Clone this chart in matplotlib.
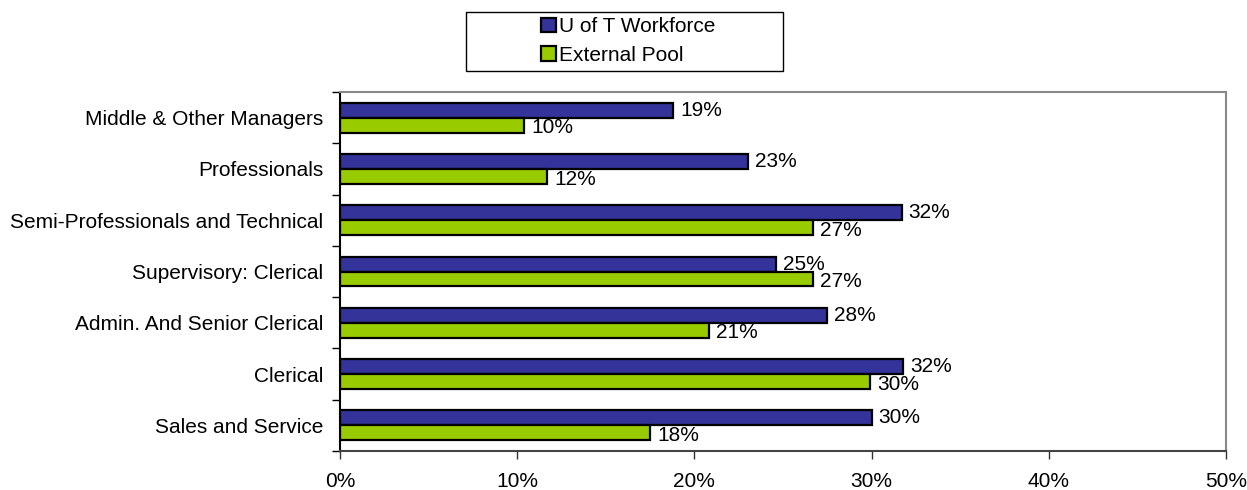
import numpy as np
import matplotlib.pyplot as plt
from matplotlib.patches import Patch, Rectangle
from matplotlib.ticker import FixedLocator, PercentFormatter

# data (top to bottom as drawn)
categories = ['Middle & Other Managers', 'Professionals', 'Semi-Professionals and Technical',
              'Supervisory: Clerical', 'Admin. And Senior Clerical', 'Clerical', 'Sales and Service']
uoft = [18.8, 23.0, 31.7, 24.6, 27.5, 31.8, 30.0]
external = [10.4, 11.7, 26.7, 26.7, 20.8, 29.9, 17.5]
series_names = ['U of T Workforce', 'External Pool']

plt.rcParams['font.family'] = ['Liberation Sans', 'DejaVu Sans']
plt.rcParams['font.size'] = 15

blue = '#333399'
green = '#99cc00'

fig = plt.figure(figsize=(12.47, 4.9), dpi=100)
ax = fig.add_axes([340/1247, 39/490, 886/1247, 359/490])

y = np.arange(len(categories))[::-1]
h = 0.29
ax.barh(y + h/2, uoft, height=h, color=blue, edgecolor='black', linewidth=1.6)
ax.barh(y - h/2, external, height=h, color=green, edgecolor='black', linewidth=1.6)

for yi, v in zip(y, uoft):
    ax.annotate(f'{v:.0f}%', (v, yi + h/2), xytext=(5, 0), textcoords='offset points',
                va='center', ha='left')
for yi, v in zip(y, external):
    ax.annotate(f'{v:.0f}%', (v, yi - h/2), xytext=(5, -2), textcoords='offset points',
                va='center', ha='left')

ax.set_xlim(0, 50)
ax.set_ylim(-0.5, len(categories) - 0.5)
ax.set_xticks(np.arange(0, 51, 10))
ax.xaxis.set_major_formatter(PercentFormatter(decimals=0))
ax.tick_params(axis='x', length=6, width=1, pad=9, color='#333333')

ax.set_yticks(y)
ax.set_yticklabels(categories)
ax.yaxis.set_minor_locator(FixedLocator(np.arange(-0.5, len(categories), 1)))
ax.tick_params(axis='y', which='major', length=0, pad=12)
ax.tick_params(axis='y', which='minor', length=6, width=1, color='black')

ax.spines['left'].set_color('black')
ax.spines['bottom'].set_color('#444444')
ax.spines['top'].set_color('#888888')
ax.spines['right'].set_color('#888888')
for s in ax.spines.values():
    s.set_linewidth(1.5)

# legend box
fig.patches.append(Rectangle((466/1247, 1 - 71/490), 317/1247, 59/490,
                             transform=fig.transFigure, facecolor='white',
                             edgecolor='black', linewidth=1))
handles = [Patch(facecolor=blue, edgecolor='black', linewidth=1.6),
           Patch(facecolor=green, edgecolor='black', linewidth=1.6)]
fig.legend(handles, series_names, loc='center', bbox_to_anchor=(628/1247, 1 - 41/490),
           frameon=False, handlelength=0.7, handleheight=0.7, handletextpad=0.15,
           labelspacing=0.45, borderpad=0)

fig.savefig('out.png', dpi=100)
